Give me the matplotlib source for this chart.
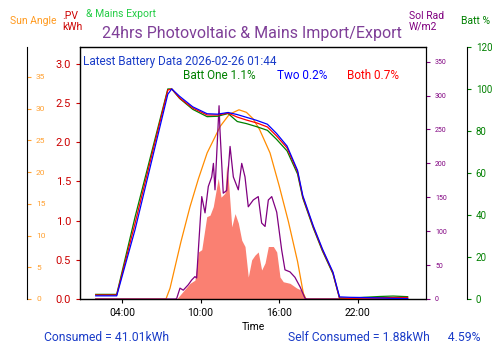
import matplotlib
matplotlib.use('Agg')
import matplotlib.pyplot as plt

plt.rcParams['font.family'] = ['Roboto', 'DejaVu Sans']

# battery % (hours of day, values)
batt_hours = [2.0, 3.6, 5.0, 7.5, 7.8, 8.4, 9.4, 10.5, 11.3, 12.1, 12.8, 13.5, 14.3, 15.1,
              15.8, 16.6, 17.4, 17.8, 18.6, 19.3, 20.1, 20.6, 21.4, 22.5, 23.7, 24.7, 25.8]
batt_one = [2.2, 2.2, 39, 100, 100, 95.5, 90.3, 86.8, 87.0, 88.3, 84.5, 83.5, 82.0, 80.3,
            76.0, 70.5, 59.5, 48.0, 33.8, 22.8, 12.0, 0.4, 0.3, 0.8, 1.2, 1.4, 1.1]
batt_two = [1.5, 1.5, 33, 97.5, 100, 96.5, 91.5, 88.2, 88.0, 88.8, 87.8, 86.5, 85.0, 83.2,
            78.8, 72.8, 61.2, 49.2, 34.8, 23.8, 12.8, 1.0, 0.8, 0.7, 0.5, 0.3, 0.2]
batt_both = [1.9, 1.9, 36, 99.5, 100, 95.7, 90.9, 87.6, 87.6, 88.5, 86.6, 85.2, 83.8, 81.9,
             77.6, 71.9, 60.5, 48.6, 34.3, 23.3, 12.4, 0.5, 0.3, 0.5, 0.6, 0.7, 0.7]

# sun angle
sun_hours = [2.0, 7.36, 7.67, 8.5, 9.19, 9.83, 10.5, 11.5, 12.2, 12.93, 13.5, 14.0, 14.5,
             15.3, 16.0, 16.7, 17.4, 17.84, 18.04, 25.8]
sun_angle = [0, 0, 1.7, 9.0, 14.5, 18.9, 23.0, 27.2, 29.1, 29.8, 29.4, 28.4, 26.7,
             23.0, 17.8, 12.2, 5.9, 0.9, 0, 0]

# solar radiation W/m2
rad_hours = [2.0, 8.1, 8.18, 8.43, 8.68, 9.06, 9.32, 9.57, 9.70, 9.83, 10.09, 10.34, 10.59,
             10.85, 10.98, 11.10, 11.41, 11.48, 11.73, 11.99, 12.25, 12.50, 12.88, 13.14,
             13.39, 13.64, 14.02, 14.40, 14.66, 14.92, 15.17, 15.43, 15.81, 16.19, 16.44,
             16.82, 17.20, 17.59, 17.97, 18.1, 25.8]
sol_rad = [0, 0, 1, 16, 13, 21, 28, 33, 31, 72, 151, 127, 166,
           180, 200, 161, 285, 249, 156, 160, 225, 180, 161, 200,
           180, 136, 146, 151, 112, 107, 146, 151, 128, 72, 43,
           40, 32, 18, 1, 0, 0]

# PV kWh
pv_hours = [2.0, 8.18, 8.43, 9.19, 9.57, 9.83, 10.09, 10.47, 10.72, 10.97, 11.23, 11.35,
            11.56, 11.86, 11.99, 12.12, 12.38, 12.63, 12.88, 13.14, 13.39, 13.64, 13.90,
            14.15, 14.40, 14.66, 14.92, 15.17, 15.55, 15.81, 16.06, 16.31, 16.82, 17.33,
            17.72, 17.97, 18.05, 25.8]
pv_kwh = [0, 0, 0.05, 0.2, 0.24, 0.60, 0.63, 1.05, 1.07, 1.18, 1.43, 1.54,
          1.3, 1.35, 1.71, 1.52, 0.92, 1.09, 0.97, 0.75, 0.67, 0.28, 0.50,
          0.56, 0.60, 0.37, 0.46, 0.67, 0.67, 0.60, 0.28, 0.22, 0.20, 0.14,
          0.11, 0.01, 0, 0]

xticks = [4, 10, 16, 22]
xlabels = ['04:00', '10:00', '16:00', '22:00']

fig = plt.figure(figsize=(5, 3.53), dpi=100)
ax = fig.add_axes([0.16, 0.153, 0.692, 0.714])

ax.fill_between(pv_hours, pv_kwh, color='salmon', lw=0)
ax.set_ylim(0, 3.217)
ax.set_yticks([0, 0.5, 1.0, 1.5, 2.0, 2.5, 3.0])
ax.tick_params(axis='y', colors='#cc0000', labelsize=8, length=3)
ax.set_xlim(0.8, 27.2)
ax.set_xticks(xticks)
ax.set_xticklabels(xlabels)
ax.tick_params(axis='x', labelsize=7.5, length=3)
ax.set_xlabel('Time', fontsize=7.5, labelpad=3)

# sun angle axis on the far left
sax = ax.twinx()
sax.spines['right'].set_position(('axes', -0.153))
sax.plot(sun_hours, sun_angle, color='darkorange', lw=0.9)
sax.set_ylim(0, 39.7)
sax.set_yticks(range(0, 40, 5))
sax.tick_params(axis='y', colors='#ffa030', labelsize=6, length=3)
sax.spines['right'].set_color('black')

# solar radiation
rax = ax.twinx()
rax.plot(rad_hours, sol_rad, color='purple', lw=0.9)
rax.set_ylim(0, 371.7)
rax.set_yticks(range(0, 400, 50))
rax.tick_params(axis='y', colors='purple', labelsize=5, length=3)
rax.spines['right'].set_color('black')

# battery
bax = ax.twinx()
bax.spines['right'].set_position(('axes', 1.118))
bax.plot(batt_hours, batt_one, color='green', lw=0.9)
bax.plot(batt_hours, batt_both, color='red', lw=0.9)
bax.plot(batt_hours, batt_two, color='blue', lw=0.9)
bax.set_ylim(0, 120)
bax.set_yticks(range(0, 121, 20))
bax.tick_params(axis='y', colors='green', labelsize=7, length=3)
bax.spines['right'].set_color('black')

for a in (ax, sax, rax, bax):
    a.set_xlim(0.8, 27.2)

fig.text(0.504, 0.906, '24hrs Photovoltaic & Mains Import/Export', color='#7f3f98',
         fontsize=11.5, ha='center', va='center')
fig.text(0.02, 0.94, 'Sun Angle', color='#ff9a1f', fontsize=7.5, va='center')
fig.text(0.124, 0.94, '.PV\nkWh', color='#cc0000', fontsize=7.5, va='center', linespacing=1.1)
fig.text(0.172, 0.96, '& Mains Export', color='#22cc44', fontsize=7.5, va='center')
fig.text(0.818, 0.94, 'Sol Rad\nW/m2', color='purple', fontsize=7.5, va='center', linespacing=1.1)
fig.text(0.922, 0.94, 'Batt %', color='green', fontsize=7.5, va='center')

ax.text(0.01, 0.968, 'Latest Battery Data 2026-02-26 01:44', transform=ax.transAxes,
        color='#1a3cc8', fontsize=8.5, va='top')
ax.text(0.298, 0.912, 'Batt One 1.1%', transform=ax.transAxes, color='green', fontsize=8.5, va='top')
ax.text(0.57, 0.912, 'Two 0.2%', transform=ax.transAxes, color='blue', fontsize=8.5, va='top')
ax.text(0.772, 0.912, 'Both 0.7%', transform=ax.transAxes, color='red', fontsize=8.5, va='top')

fig.text(0.088, 0.045, 'Consumed = 41.01kWh', color='#1a3cc8', fontsize=8.7, va='center')
fig.text(0.576, 0.045, 'Self Consumed = 1.88kWh      4.59%', color='#1a3cc8', fontsize=8.7,
         va='center')

fig.savefig('out.png', dpi=100)
